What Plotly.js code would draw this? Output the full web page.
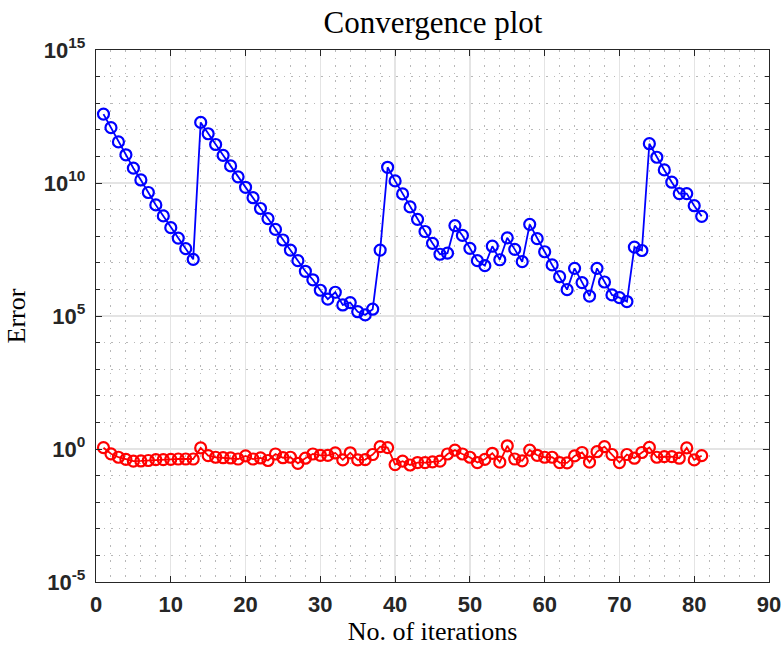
<!DOCTYPE html>
<html>
<head>
<meta charset="utf-8">
<script src="https://cdn.plot.ly/plotly-3.0.1.min.js"></script>
<style>html,body{margin:0;padding:0;background:#fff;}#chart{width:783px;height:648px;}</style>
</head>
<body>
<div id="chart"></div>
<script>
var iterations = [1,2,3,4,5,6,7,8,9,10,11,12,13,14,15,16,17,18,19,20,21,22,23,24,25,26,27,28,29,30,31,32,33,34,35,36,37,38,39,40,41,42,43,44,45,46,47,48,49,50,51,52,53,54,55,56,57,58,59,60,61,62,63,64,65,66,67,68,69,70,71,72,73,74,75,76,77,78,79,80,81];

var errorBlue = [3.9e12,1.2e12,3.5e11,1.15e11,3.6e10,1.3e10,4.4e9,1.5e9,5.8e8,2.1e8,8.5e7,3.4e7,1.35e7,
  1.9e12,7.1e11,2.8e11,1.1e11,4.4e10,1.7e10,6.9e9,2.8e9,1.1e9,4.6e8,1.8e8,7.2e7,3.0e7,1.2e7,4.8e6,2.3e6,9.3e5,4.3e5,7.8e5,2.6e5,3.2e5,1.45e5,1.1e5,1.8e5,3.0e7,
  3.9e10,1.2e10,3.9e9,1.26e9,4.3e8,1.5e8,5.4e7,2.1e7,2.3e7,2.5e8,1.07e8,3.5e7,1.2e7,7.8e6,4.2e7,1.3e7,8.7e7,3.2e7,1.1e7,2.8e8,8.1e7,2.6e7,8.3e6,3.0e6,9.8e5,6.2e6,1.8e6,5.6e5,6.2e6,1.9e6,6.2e5,4.9e5,3.5e5,3.9e7,2.9e7,
  3.0e11,9.3e10,3.1e10,1.07e10,4.0e9,4.0e9,1.4e9,5.6e8];

var errorRed = [1.12,0.66,0.49,0.41,0.35,0.355,0.37,0.40,0.40,0.41,0.42,0.42,0.42,
  1.10,0.56,0.49,0.47,0.46,0.42,0.55,0.42,0.46,0.37,0.65,0.47,0.49,0.29,0.45,0.65,0.58,0.58,0.71,0.39,0.72,0.39,0.40,0.62,1.23,
  1.12,0.26,0.35,0.25,0.31,0.31,0.33,0.35,0.65,0.91,0.65,0.49,0.31,0.41,0.69,0.32,1.32,0.42,0.36,0.91,0.58,0.49,0.49,0.31,0.30,0.55,0.74,0.32,0.79,1.23,0.62,0.31,0.62,0.45,0.74,
  1.15,0.49,0.52,0.52,0.45,1.10,0.39,0.56];

var yTickVals = [1e-5, 1e0, 1e5, 1e10, 1e15];
var yTickText = ['10<sup>-5</sup>', '10<sup>0</sup>', '10<sup>5</sup>', '10<sup>10</sup>', '10<sup>15</sup>'];
var yMinorVals = [1e-4,1e-3,1e-2,1e-1,1e1,1e2,1e3,1e4,1e6,1e7,1e8,1e9,1e11,1e12,1e13,1e14];

var axisColor = '#262626';
var tickFont = {family: 'Liberation Sans, Arial, sans-serif', size: 22, color: axisColor, weight: 'bold'};
var serif = 'Liberation Serif, Times New Roman, serif';

var traces = [
  {x: iterations, y: errorBlue, type: 'scatter', mode: 'lines+markers',
   line: {color: '#0000ff', width: 1.8},
   marker: {symbol: 'circle-open', size: 11, color: '#0000ff', line: {width: 2.2, color: '#0000ff'}},
   showlegend: false},
  {x: iterations, y: errorRed, type: 'scatter', mode: 'lines+markers',
   line: {color: '#ff0000', width: 1.8},
   marker: {symbol: 'circle-open', size: 11, color: '#ff0000', line: {width: 2.2, color: '#ff0000'}},
   showlegend: false}
];

var layout = {
  width: 783, height: 648,
  margin: {l: 96, r: 14, t: 50, b: 66},
  paper_bgcolor: '#ffffff', plot_bgcolor: '#ffffff',
  title: {text: 'Convergence plot', font: {family: serif, size: 31, color: '#000'}, x: 0.553, xanchor: 'center', y: 0.966, yanchor: 'middle'},
  xaxis: {
    range: [0, 90], dtick: 10, tick0: 0,
    showline: true, linecolor: axisColor, linewidth: 1.2, mirror: 'ticks',
    ticks: 'inside', ticklen: 6, tickcolor: axisColor, tickwidth: 1,
    showgrid: true, gridcolor: '#e4e4e4', gridwidth: 1.3,
    zeroline: false,
    tickfont: tickFont,
    ticklabelstandoff: 2,
    minor: {dtick: 2, tick0: 0, showgrid: true, gridcolor: '#b8b8b8', griddash: '1.5px,6px', gridwidth: 1, ticks: ''},
    title: {text: 'No. of iterations', font: {family: serif, size: 26, color: '#000'}, standoff: 2}
  },
  yaxis: {
    type: 'log', range: [-5, 15],
    tickmode: 'array', tickvals: yTickVals, ticktext: yTickText,
    showline: true, linecolor: axisColor, linewidth: 1.2, mirror: 'ticks',
    ticks: 'inside', ticklen: 6, tickcolor: axisColor, tickwidth: 1,
    showgrid: true, gridcolor: '#e4e4e4', gridwidth: 1.3,
    zeroline: false,
    tickfont: tickFont,
    ticklabelstandoff: 5,
    minor: {tickmode: 'array', tickvals: yMinorVals, showgrid: true, gridcolor: '#b8b8b8', griddash: '1.5px,6px', gridwidth: 1, ticks: 'inside', ticklen: 4, tickcolor: axisColor},
    title: {text: 'Error', font: {family: serif, size: 26, color: '#000'}, standoff: 10}
  }
};

Plotly.newPlot('chart', traces, layout, {displayModeBar: false, staticPlot: true});
</script>
</body>
</html>
